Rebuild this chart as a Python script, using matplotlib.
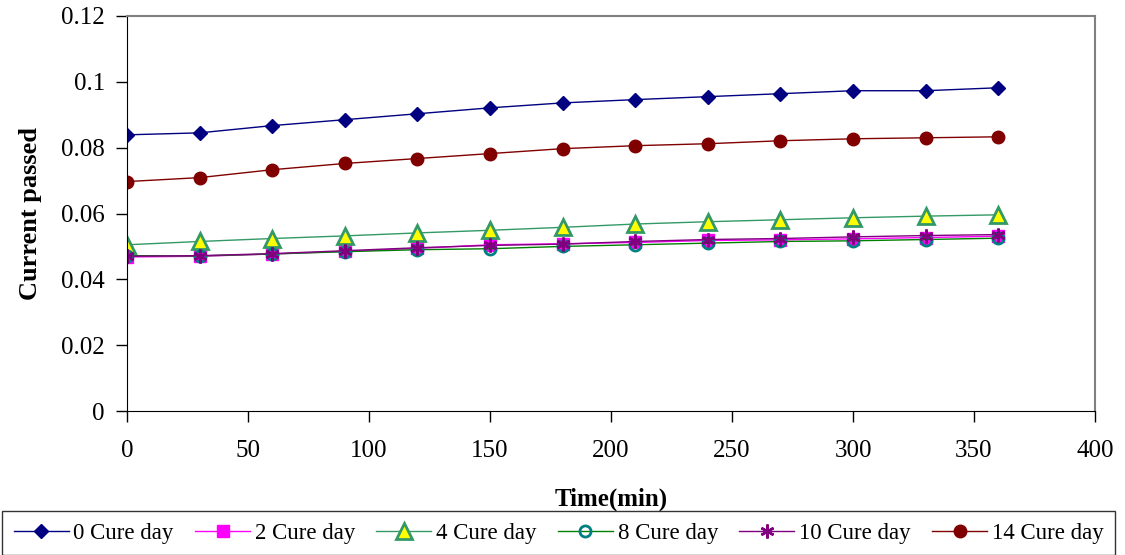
import matplotlib
matplotlib.use("Agg")
import matplotlib.pyplot as plt

plt.rcParams['font.family'] = ['Liberation Serif', 'DejaVu Serif']

# time in minutes and current readings for each curing age
time_min = [0, 30, 60, 90, 120, 150, 180, 210, 240, 270, 300, 330, 360]
cure0 = [0.0839, 0.0845, 0.0867, 0.0885, 0.0903, 0.0921, 0.0936, 0.0946, 0.0955, 0.0964, 0.0973, 0.0973, 0.0982]
cure2 = [0.0468, 0.0470, 0.0477, 0.0485, 0.0494, 0.0505, 0.0508, 0.0512, 0.0518, 0.0520, 0.0523, 0.0527, 0.0531]
cure4 = [0.0505, 0.0515, 0.0524, 0.0532, 0.0541, 0.0549, 0.0558, 0.0568, 0.0575, 0.0581, 0.0587, 0.0592, 0.0596]
cure8 = [0.0472, 0.0471, 0.0477, 0.0484, 0.0490, 0.0493, 0.0500, 0.0505, 0.0510, 0.0515, 0.0517, 0.0521, 0.0525]
cure10 = [0.0470, 0.0472, 0.0478, 0.0487, 0.0496, 0.0503, 0.0507, 0.0515, 0.0521, 0.0524, 0.0529, 0.0533, 0.0536]
cure14 = [0.0697, 0.0709, 0.0733, 0.0752, 0.0767, 0.0782, 0.0797, 0.0806, 0.0812, 0.0821, 0.0827, 0.0830, 0.0833]

fig = plt.figure(figsize=(11.25, 5.55), dpi=100)
ax = fig.add_axes([127/1125, 1 - 411/555, (1095 - 127)/1125, (411 - 16)/555])

ax.plot(time_min, cure0, color='#000080', lw=1, marker='D', ms=7, label='0 Cure day')
ax.plot(time_min, cure2, color='#FF00FF', lw=1, marker='s', ms=8, label='2 Cure day')
ax.plot(time_min, cure4, color='#339966', lw=1, marker='^', ms=12, mfc='#FFFF00',
        mec='#339966', mew=2, label='4 Cure day')
ax.plot(time_min, cure8, color='#008000', lw=1, marker='o', ms=8, mfc='none',
        mec='#008080', mew=2, label='8 Cure day')
ax.plot(time_min, cure10, color='#800080', lw=1, marker=(6, 2, 0), ms=10, mew=1.8,
        mec='#800080', label='10 Cure day')
ax.plot(time_min, cure14, color='#800000', lw=1, marker='o', ms=9, label='14 Cure day')

ax.set_xlim(0, 400)
ax.set_ylim(0, 0.12)
ax.set_xticks(range(0, 401, 50))
ax.set_yticks([0, 0.02, 0.04, 0.06, 0.08, 0.1, 0.12])
ax.set_yticklabels(['0', '0.02', '0.04', '0.06', '0.08', '0.1', '0.12'])
ax.tick_params(direction='out', length=8, width=1, labelsize=18)
ax.tick_params(axis='y', pad=8)
ax.tick_params(axis='x', pad=13)
for side in ('top', 'right'):
    ax.spines[side].set_color('#808080')
    ax.spines[side].set_linewidth(1.5)

ax.set_xlabel('Time(min)', fontsize=18, fontweight='bold', labelpad=18)
ax.set_ylabel('Current passed', fontsize=19, fontweight='bold', labelpad=14)

leg = fig.legend(loc='lower left', bbox_to_anchor=(0.002, 0.0, 0.989, 0.075),
                 mode='expand', ncol=6, fontsize=16.5, fancybox=False,
                 edgecolor='black', borderaxespad=0, handlelength=2.4,
                 handletextpad=0.2, columnspacing=0.8, borderpad=0.5)
leg.get_frame().set_linewidth(1)

fig.savefig('out.png', dpi=100)
